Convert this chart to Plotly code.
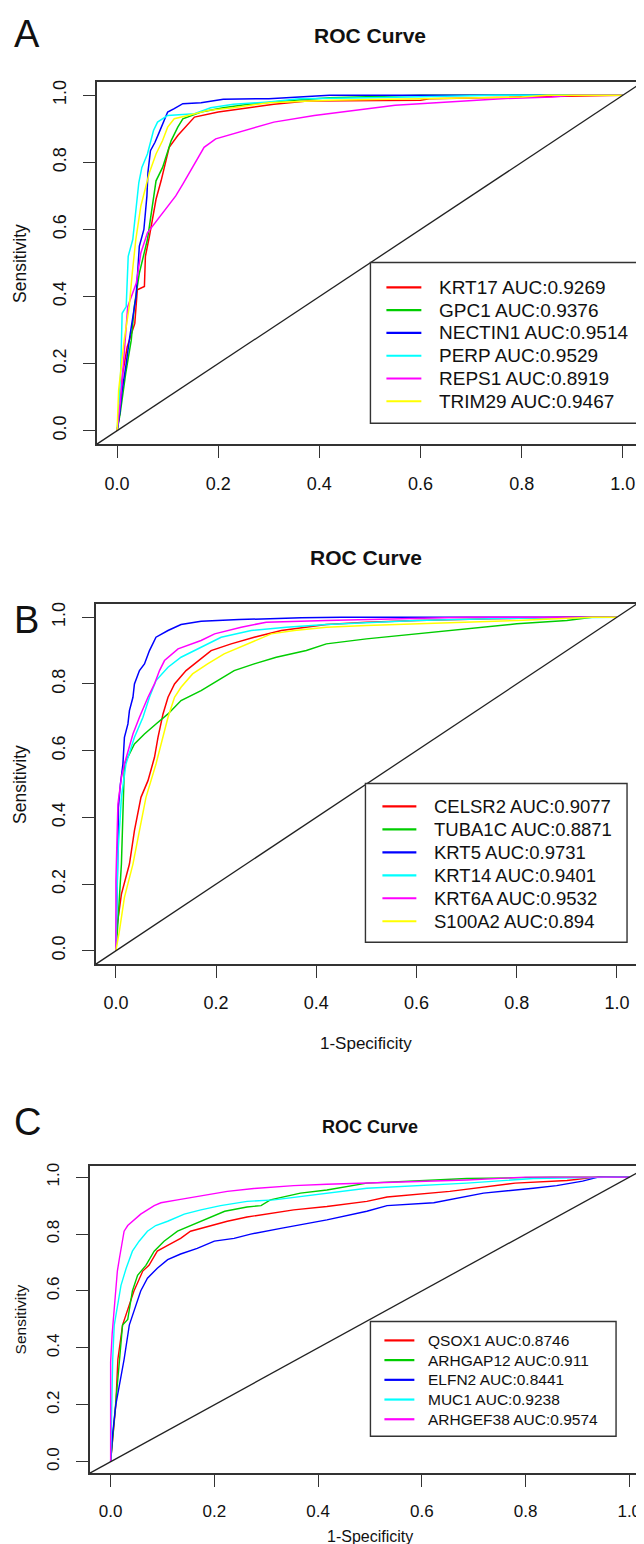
import plotly.graph_objects as go

W, H = 644, 1544
FONT = "Liberation Sans, Arial, sans-serif"
COLORS = ["#FF0000", "#00CD00", "#0000FF", "#00FFFF", "#FF00FF", "#FFFF00"]

# ---------------- Panel A data ----------------
A_genes = ["KRT17", "GPC1", "NECTIN1", "PERP", "REPS1", "TRIM29"]
A_auc = ["0.9269", "0.9376", "0.9514", "0.9529", "0.8919", "0.9467"]

A_KRT17_fpr = [0, 0.005, 0.011, 0.02, 0.035, 0.04, 0.054, 0.056, 0.064, 0.077, 0.087, 0.103, 0.12, 0.143, 0.153, 0.2, 0.25, 0.31, 0.376, 0.5, 0.6, 0.62, 0.8, 1.0]
A_KRT17_tpr = [0, 0.05, 0.17, 0.25, 0.32, 0.42, 0.43, 0.52, 0.58, 0.69, 0.745, 0.845, 0.88, 0.92, 0.935, 0.95, 0.96, 0.973, 0.983, 0.985, 0.985, 0.99, 0.995, 1.0]

A_GPC1_fpr = [0, 0.006, 0.017, 0.028, 0.034, 0.044, 0.06, 0.07, 0.077, 0.09, 0.107, 0.12, 0.13, 0.166, 0.21, 0.26, 0.33, 0.42, 0.5, 0.6, 1.0]
A_GPC1_tpr = [0, 0.05, 0.17, 0.27, 0.37, 0.47, 0.57, 0.67, 0.745, 0.785, 0.865, 0.905, 0.93, 0.95, 0.963, 0.973, 0.983, 0.993, 0.996, 1.0, 1.0]

A_NECTIN1_fpr = [0, 0.005, 0.01, 0.015, 0.018, 0.025, 0.03, 0.0375, 0.044, 0.053, 0.059, 0.061, 0.066, 0.075, 0.082, 0.092, 0.1, 0.113, 0.13, 0.166, 0.21, 0.3, 0.37, 0.42, 1.0]
A_NECTIN1_tpr = [0, 0.05, 0.12, 0.18, 0.2, 0.28, 0.33, 0.4, 0.55, 0.6, 0.7, 0.77, 0.835, 0.86, 0.885, 0.92, 0.95, 0.96, 0.975, 0.978, 0.988, 0.99, 0.995, 1.0, 1.0]

A_PERP_fpr = [0, 0.004, 0.007, 0.01, 0.018, 0.022, 0.031, 0.0375, 0.043, 0.049, 0.06, 0.072, 0.08, 0.1, 0.153, 0.185, 0.23, 0.3, 0.36, 0.5, 0.71, 0.75, 1.0]
A_PERP_tpr = [0, 0.08, 0.17, 0.35, 0.37, 0.52, 0.57, 0.67, 0.74, 0.785, 0.825, 0.895, 0.92, 0.94, 0.945, 0.963, 0.973, 0.98, 0.99, 0.993, 0.997, 1.0, 1.0]

A_REPS1_fpr = [0, 0.006, 0.011, 0.021, 0.038, 0.047, 0.06, 0.08, 0.1, 0.116, 0.13, 0.153, 0.172, 0.195, 0.23, 0.26, 0.31, 0.39, 0.416, 0.55, 0.76, 0.86, 0.9, 1.0]
A_REPS1_tpr = [0, 0.08, 0.17, 0.37, 0.44, 0.53, 0.59, 0.63, 0.67, 0.70, 0.735, 0.795, 0.845, 0.87, 0.885, 0.9, 0.92, 0.94, 0.945, 0.97, 0.99, 0.995, 1.0, 1.0]

A_TRIM29_fpr = [0, 0.003, 0.014, 0.024, 0.03, 0.037, 0.047, 0.064, 0.077, 0.09, 0.1, 0.113, 0.14, 0.18, 0.23, 0.3, 0.42, 0.6, 0.8, 0.85, 1.0]
A_TRIM29_tpr = [0, 0.12, 0.27, 0.37, 0.47, 0.57, 0.67, 0.77, 0.825, 0.865, 0.905, 0.93, 0.94, 0.955, 0.963, 0.978, 0.985, 0.99, 0.995, 1.0, 1.0]

# ---------------- Panel B data ----------------
B_genes = ["CELSR2", "TUBA1C", "KRT5", "KRT14", "KRT6A", "S100A2"]
B_auc = ["0.9077", "0.8871", "0.9731", "0.9401", "0.9532", "0.894"]

B_CELSR2_fpr = [0, 0.001, 0.011, 0.027, 0.037, 0.05, 0.064, 0.077, 0.084, 0.094, 0.104, 0.117, 0.14, 0.157, 0.19, 0.23, 0.276, 0.33, 0.42, 0.5, 0.6, 0.75, 0.9, 1.0]
B_CELSR2_tpr = [0, 0.06, 0.17, 0.26, 0.36, 0.46, 0.51, 0.58, 0.64, 0.71, 0.76, 0.80, 0.84, 0.86, 0.90, 0.92, 0.94, 0.96, 0.978, 0.985, 0.99, 0.995, 1.0, 1.0]

B_TUBA1C_fpr = [0, 0.003, 0.011, 0.014, 0.017, 0.037, 0.057, 0.08, 0.104, 0.13, 0.17, 0.203, 0.236, 0.276, 0.32, 0.38, 0.42, 0.5, 0.6, 0.7, 0.8, 0.9, 0.95, 1.0]
B_TUBA1C_tpr = [0, 0.06, 0.26, 0.46, 0.56, 0.62, 0.65, 0.68, 0.71, 0.75, 0.78, 0.81, 0.84, 0.86, 0.88, 0.90, 0.92, 0.935, 0.95, 0.965, 0.98, 0.99, 1.0, 1.0]

B_KRT5_fpr = [0, 0.001, 0.003, 0.004, 0.005, 0.009, 0.014, 0.017, 0.024, 0.027, 0.034, 0.037, 0.047, 0.057, 0.067, 0.08, 0.104, 0.13, 0.17, 0.246, 0.37, 0.45, 1.0]
B_KRT5_tpr = [0, 0.06, 0.20, 0.31, 0.43, 0.50, 0.56, 0.64, 0.68, 0.72, 0.76, 0.80, 0.84, 0.86, 0.90, 0.94, 0.96, 0.978, 0.988, 0.993, 0.998, 1.0, 1.0]

B_KRT14_fpr = [0, 0.001, 0.004, 0.011, 0.02, 0.037, 0.054, 0.067, 0.08, 0.104, 0.13, 0.17, 0.21, 0.27, 0.34, 0.42, 0.6, 0.8, 1.0]
B_KRT14_tpr = [0, 0.11, 0.29, 0.46, 0.56, 0.64, 0.70, 0.76, 0.81, 0.85, 0.88, 0.91, 0.94, 0.96, 0.97, 0.978, 0.99, 0.997, 1.0]

B_KRT6A_fpr = [0, 0.0, 0.004, 0.011, 0.017, 0.024, 0.034, 0.047, 0.064, 0.077, 0.087, 0.097, 0.124, 0.17, 0.197, 0.25, 0.3, 0.42, 0.55, 0.7, 1.0]
B_KRT6A_tpr = [0, 0.21, 0.44, 0.52, 0.56, 0.60, 0.65, 0.70, 0.76, 0.80, 0.84, 0.87, 0.905, 0.93, 0.95, 0.97, 0.985, 0.99, 0.995, 1.0, 1.0]

B_S100A2_fpr = [0, 0.007, 0.017, 0.034, 0.047, 0.06, 0.08, 0.094, 0.104, 0.117, 0.13, 0.153, 0.183, 0.216, 0.263, 0.31, 0.356, 0.42, 0.5, 0.6, 0.8, 0.95, 1.0]
B_S100A2_tpr = [0, 0.06, 0.16, 0.26, 0.36, 0.46, 0.56, 0.64, 0.70, 0.76, 0.79, 0.83, 0.86, 0.89, 0.92, 0.95, 0.96, 0.97, 0.975, 0.98, 0.99, 1.0, 1.0]

# ---------------- Panel C data ----------------
C_genes = ["QSOX1", "ARHGAP12", "ELFN2", "MUC1", "ARHGEF38"]
C_auc = ["0.8746", "0.911", "0.8441", "0.9238", "0.9574"]

C_QSOX1_fpr = [0, 0.005, 0.01, 0.014, 0.023, 0.045, 0.062, 0.074, 0.09, 0.11, 0.135, 0.154, 0.187, 0.225, 0.263, 0.315, 0.353, 0.417, 0.494, 0.533, 0.654, 0.78, 0.88, 0.937, 1.0]
C_QSOX1_tpr = [0, 0.10, 0.20, 0.36, 0.48, 0.60, 0.67, 0.69, 0.74, 0.76, 0.785, 0.81, 0.826, 0.845, 0.86, 0.873, 0.885, 0.897, 0.915, 0.93, 0.95, 0.979, 0.988, 1.0, 1.0]

C_ARHGAP12_fpr = [0, 0.005, 0.01, 0.018, 0.023, 0.033, 0.042, 0.052, 0.068, 0.084, 0.103, 0.129, 0.154, 0.187, 0.22, 0.263, 0.29, 0.308, 0.366, 0.417, 0.494, 0.687, 0.85, 1.0]
C_ARHGAP12_tpr = [0, 0.10, 0.22, 0.36, 0.48, 0.50, 0.60, 0.655, 0.69, 0.74, 0.775, 0.81, 0.83, 0.855, 0.88, 0.895, 0.90, 0.92, 0.944, 0.955, 0.979, 0.995, 1.0, 1.0]

C_ELFN2_fpr = [0, 0.004, 0.01, 0.02, 0.026, 0.036, 0.045, 0.058, 0.071, 0.09, 0.11, 0.135, 0.167, 0.2, 0.238, 0.27, 0.328, 0.38, 0.417, 0.494, 0.533, 0.623, 0.719, 0.815, 0.86, 0.91, 0.94, 1.0]
C_ELFN2_tpr = [0, 0.10, 0.20, 0.30, 0.36, 0.48, 0.53, 0.60, 0.645, 0.68, 0.71, 0.73, 0.75, 0.775, 0.785, 0.80, 0.82, 0.838, 0.85, 0.88, 0.90, 0.91, 0.944, 0.961, 0.97, 0.986, 1.0, 1.0]

C_MUC1_fpr = [0, 0.002, 0.004, 0.007, 0.013, 0.02, 0.03, 0.042, 0.055, 0.071, 0.087, 0.11, 0.142, 0.174, 0.212, 0.263, 0.315, 0.366, 0.417, 0.494, 0.687, 0.815, 0.98, 1.0]
C_MUC1_tpr = [0, 0.20, 0.36, 0.48, 0.54, 0.62, 0.68, 0.74, 0.775, 0.81, 0.83, 0.845, 0.87, 0.885, 0.90, 0.915, 0.92, 0.932, 0.944, 0.961, 0.979, 0.995, 1.0, 1.0]

C_ARHGEF38_fpr = [0, 0.0, 0.003, 0.005, 0.01, 0.013, 0.017, 0.023, 0.026, 0.033, 0.042, 0.058, 0.084, 0.097, 0.129, 0.174, 0.225, 0.276, 0.353, 0.417, 0.494, 0.687, 0.8, 1.0]
C_ARHGEF38_tpr = [0, 0.35, 0.45, 0.50, 0.60, 0.67, 0.715, 0.77, 0.81, 0.83, 0.845, 0.87, 0.90, 0.91, 0.92, 0.935, 0.95, 0.96, 0.97, 0.975, 0.98, 0.99, 1.0, 1.0]

A_series = [(A_KRT17_fpr, A_KRT17_tpr), (A_GPC1_fpr, A_GPC1_tpr), (A_NECTIN1_fpr, A_NECTIN1_tpr),
            (A_PERP_fpr, A_PERP_tpr), (A_REPS1_fpr, A_REPS1_tpr), (A_TRIM29_fpr, A_TRIM29_tpr)]
B_series = [(B_CELSR2_fpr, B_CELSR2_tpr), (B_TUBA1C_fpr, B_TUBA1C_tpr), (B_KRT5_fpr, B_KRT5_tpr),
            (B_KRT14_fpr, B_KRT14_tpr), (B_KRT6A_fpr, B_KRT6A_tpr), (B_S100A2_fpr, B_S100A2_tpr)]
C_series = [(C_QSOX1_fpr, C_QSOX1_tpr), (C_ARHGAP12_fpr, C_ARHGAP12_tpr), (C_ELFN2_fpr, C_ELFN2_tpr),
            (C_MUC1_fpr, C_MUC1_tpr), (C_ARHGEF38_fpr, C_ARHGEF38_tpr)]

TICKS = [0, 0.2, 0.4, 0.6, 0.8, 1.0]
TICKTEXT = ["0.0", "0.2", "0.4", "0.6", "0.8", "1.0"]

# panel geometry in pixels (layout only)
panels = [
    dict(name="A", genes=A_genes, auc=A_auc, series=A_series, l=89, r=636, t=71, b=434,
         tick=18, title=21, ylab=17.5, xlab=None, letter=(4, 0, "top"), lw=1.5,
         leg=dict(l=363, r=634, t=252, b=413, y0=277, dy=22.8, lx0=379, lx1=414, tx=430, fs=19)),
    dict(name="B", genes=B_genes, auc=B_auc, series=B_series, l=88, r=630, t=594, b=955,
         tick=18, title=21, ylab=17.5, xlab=(1035, 17), letter=(4, 610, "middle"), lw=1.5,
         leg=dict(l=358, r=620, t=774, b=933, y0=797, dy=23.0, lx0=375, lx1=409, tx=425, fs=18.5)),
    dict(name="C", genes=C_genes, auc=C_auc, series=C_series, l=82, r=643, t=1157, b=1465,
         tick=17, title=18, ylab=15.5, xlab=(1528, 16), letter=(4, 1113, "middle"), lw=1.4,
         leg=dict(l=363, r=609, t=1313, b=1428, y0=1332, dy=19.75, lx0=377, lx1=407, tx=419, fs=15.5)),
]
TITLE_Y = [25, 548, 1118]

fig = go.Figure()
annotations = []
shapes = []
layout_axes = {}


def px_x(v):
    return v / W


def px_y(v):
    return 1 - v / H


for i, p in enumerate(panels):
    k = "" if i == 0 else str(i + 1)
    for j, (fx, ty) in enumerate(p["series"]):
        fig.add_trace(go.Scatter(
            x=fx, y=ty, mode="lines",
            line=dict(color=COLORS[j], width=p["lw"]),
            name=f"{p['genes'][j]} AUC:{p['auc'][j]}",
            xaxis="x" + k, yaxis="y" + k, showlegend=False,
        ))
    axcommon = dict(range=[-0.04, 1.04], tickvals=TICKS, ticktext=TICKTEXT,
                    showline=True, mirror=True, linecolor="#333333", linewidth=1.5,
                    ticks="outside", ticklen=12, tickwidth=1.4, tickcolor="#333333",
                    showgrid=False, zeroline=False, fixedrange=True,
                    tickfont=dict(family=FONT, size=p["tick"], color="#111111"))
    layout_axes["xaxis" + k] = dict(axcommon, domain=[px_x(p["l"]), px_x(p["r"])],
                                    anchor="y" + k, ticklabelstandoff=10)
    layout_axes["yaxis" + k] = dict(axcommon, domain=[px_y(p["b"]), px_y(p["t"])],
                                    anchor="x" + k, tickangle=-90, ticklabelstandoff=10)
    # diagonal reference line y = x across the panel
    shapes.append(dict(type="line", xref=f"x{k} domain", yref=f"y{k} domain",
                       x0=0, y0=0, x1=1, y1=1, line=dict(color="#222222", width=1.3)))
    # legend (drawn in R style: boxed, short line samples)
    lg = p["leg"]
    shapes.append(dict(type="rect", xref="paper", yref="paper",
                       x0=px_x(lg["l"]), x1=px_x(lg["r"]), y0=px_y(lg["b"]), y1=px_y(lg["t"]),
                       line=dict(color="#333333", width=1.4), fillcolor="white", layer="above"))
    for j in range(len(p["genes"])):
        yy = lg["y0"] + j * lg["dy"]
        shapes.append(dict(type="line", xref="paper", yref="paper",
                           x0=px_x(lg["lx0"]), x1=px_x(lg["lx1"]), y0=px_y(yy), y1=px_y(yy),
                           line=dict(color=COLORS[j], width=2.2), layer="above"))
        annotations.append(dict(text=f"{p['genes'][j]} AUC:{p['auc'][j]}",
                                x=px_x(lg["tx"]), y=px_y(yy), xref="paper", yref="paper",
                                showarrow=False, xanchor="left", yanchor="middle",
                                font=dict(family=FONT, size=lg["fs"], color="#111111")))
    cx = px_x((p["l"] + p["r"]) / 2)
    annotations.append(dict(text="<b>ROC Curve</b>", x=cx, y=px_y(TITLE_Y[i]),
                            xref="paper", yref="paper", showarrow=False,
                            xanchor="center", yanchor="middle",
                            font=dict(family=FONT, size=p["title"], color="#111111")))
    lx, ly, lanchor = p["letter"]
    annotations.append(dict(text=p["name"], x=px_x(lx), y=px_y(ly),
                            xref="paper", yref="paper", showarrow=False,
                            xanchor="left", yanchor=lanchor,
                            font=dict(family=FONT, size=38, color="#111111")))
    annotations.append(dict(text="Sensitivity", x=px_x(12),
                            y=px_y((p["t"] + p["b"]) / 2), xref="paper", yref="paper",
                            showarrow=False, textangle=-90, xanchor="center", yanchor="middle",
                            font=dict(family=FONT, size=p["ylab"], color="#111111")))
    if p["xlab"]:
        annotations.append(dict(text="1-Specificity", x=cx, y=px_y(p["xlab"][0]),
                                xref="paper", yref="paper", showarrow=False,
                                xanchor="center", yanchor="middle",
                                font=dict(family=FONT, size=p["xlab"][1], color="#111111")))

fig.update_layout(
    width=W, height=H, margin=dict(l=0, r=0, t=0, b=0),
    paper_bgcolor="white", plot_bgcolor="white",
    annotations=annotations, shapes=shapes, showlegend=False,
    **layout_axes,
)

fig.write_html("out.html")
